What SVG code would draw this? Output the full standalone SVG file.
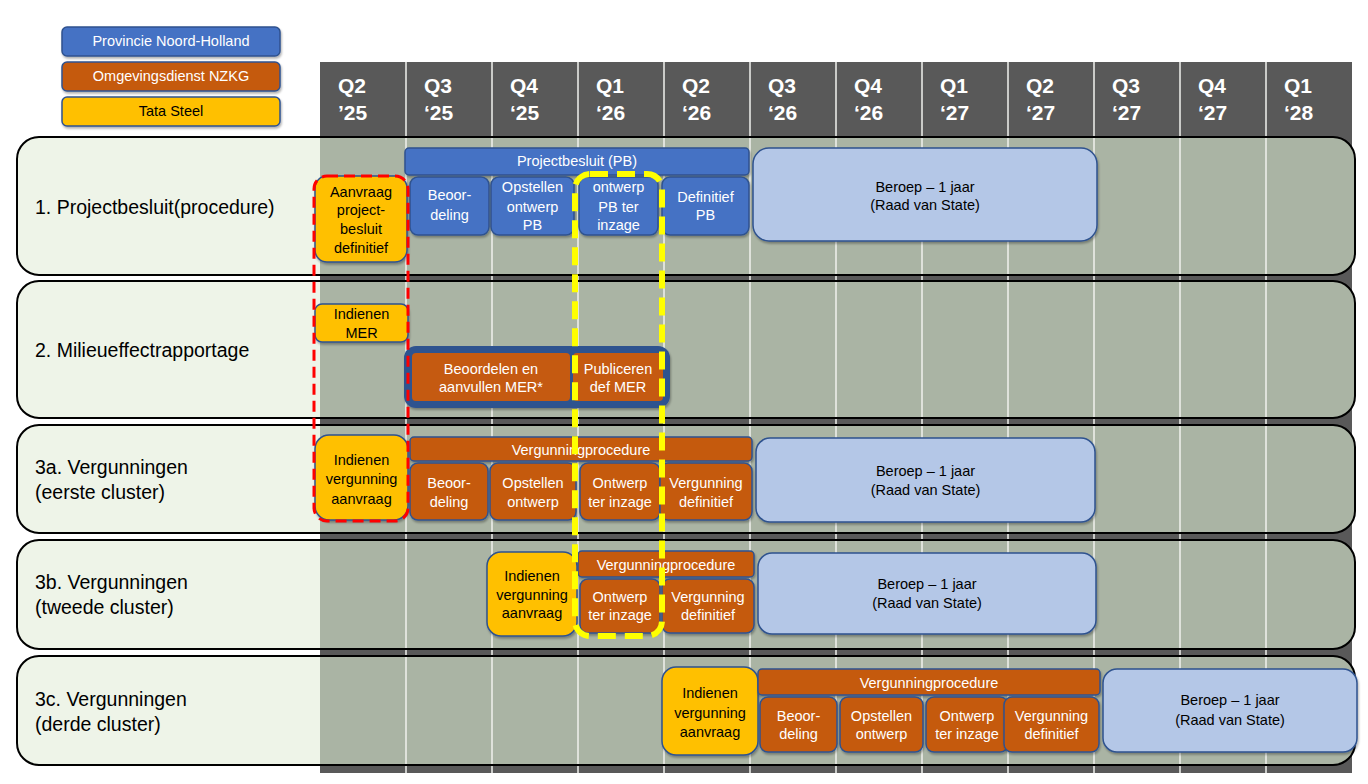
<svg xmlns="http://www.w3.org/2000/svg" width="1368" height="784" viewBox="0 0 1368 784">
<defs>
<filter id="sh" x="-10%" y="-10%" width="120%" height="130%">
<feDropShadow dx="1" dy="2" stdDeviation="1.2" flood-color="#000" flood-opacity="0.3"/>
</filter>
</defs>
<style>
text{font-family:"Liberation Sans",Arial,sans-serif}
.box{stroke:#2F528F;stroke-width:1.5;filter:url(#sh)}
.blue{fill:#4472C4}
.orange{fill:#C55A11}
.yellow{fill:#FFC000}
.lblue{fill:#B4C7E7}
.tw{fill:#fff;font-size:14.5px;text-anchor:middle}
.tk{fill:#000;font-size:14.5px;text-anchor:middle}
.hdr{fill:#fff;font-size:21px;font-weight:bold}
.lbl{fill:#000;font-size:19.5px}
.rowbg{fill:#EEF4E8}
.rowgrey{fill:#AAB4A4}
.frame{fill:none;stroke:#000;stroke-width:2}
.div{stroke:#F0F2EE;stroke-width:1.5}
</style>
<rect width="1368" height="784" fill="#fff"/>

<g id="legend">
<g id="legend-pnh"><rect class="box blue" x="62" y="27" width="218" height="29" rx="5"/><text class="tw" x="171" y="46">Provincie Noord-Holland</text></g>
<g id="legend-od"><rect class="box orange" x="62" y="62" width="218" height="29" rx="5"/><text class="tw" x="171" y="81">Omgevingsdienst NZKG</text></g>
<g id="legend-tata"><rect class="box yellow" x="62" y="97" width="218" height="29" rx="5"/><text class="tk" x="171" y="116">Tata Steel</text></g>
</g>

<g id="timeline-bg">
<rect x="320" y="62" width="1032" height="711" fill="#595959"/>
</g>

<g id="rows-bg">
<rect class="rowbg" x="17" y="137" width="1338" height="138" rx="22"/>
<path class="rowgrey" d="M320,137H1333A22,22 0 0 1 1355,159V253A22,22 0 0 1 1333,275H320Z"/>
<rect class="rowbg" x="17" y="281" width="1338" height="137" rx="22"/>
<path class="rowgrey" d="M320,281H1333A22,22 0 0 1 1355,303V396A22,22 0 0 1 1333,418H320Z"/>
<rect class="rowbg" x="17" y="425" width="1338" height="108" rx="22"/>
<path class="rowgrey" d="M320,425H1333A22,22 0 0 1 1355,447V511A22,22 0 0 1 1333,533H320Z"/>
<rect class="rowbg" x="17" y="540" width="1338" height="109" rx="22"/>
<path class="rowgrey" d="M320,540H1333A22,22 0 0 1 1355,562V627A22,22 0 0 1 1333,649H320Z"/>
<rect class="rowbg" x="17" y="656" width="1338" height="109" rx="22"/>
<path class="rowgrey" d="M320,656H1333A22,22 0 0 1 1355,678V743A22,22 0 0 1 1333,765H320Z"/>
</g>

<g id="dividers">
<line class="div" x1="406" y1="62" x2="406" y2="773"/>
<line class="div" x1="492" y1="62" x2="492" y2="773"/>
<line class="div" x1="578" y1="62" x2="578" y2="773"/>
<line class="div" x1="664" y1="62" x2="664" y2="773"/>
<line class="div" x1="750" y1="62" x2="750" y2="773"/>
<line class="div" x1="836" y1="62" x2="836" y2="773"/>
<line class="div" x1="922" y1="62" x2="922" y2="773"/>
<line class="div" x1="1008" y1="62" x2="1008" y2="773"/>
<line class="div" x1="1094" y1="62" x2="1094" y2="773"/>
<line class="div" x1="1180" y1="62" x2="1180" y2="773"/>
<line class="div" x1="1266" y1="62" x2="1266" y2="773"/>
</g>

<g id="header">
<text class="hdr" x="338" y="93">Q2</text><text class="hdr" x="338" y="120">’25</text>
<text class="hdr" x="424" y="93">Q3</text><text class="hdr" x="424" y="120">‘25</text>
<text class="hdr" x="510" y="93">Q4</text><text class="hdr" x="510" y="120">‘25</text>
<text class="hdr" x="596" y="93">Q1</text><text class="hdr" x="596" y="120">‘26</text>
<text class="hdr" x="682" y="93">Q2</text><text class="hdr" x="682" y="120">‘26</text>
<text class="hdr" x="768" y="93">Q3</text><text class="hdr" x="768" y="120">‘26</text>
<text class="hdr" x="854" y="93">Q4</text><text class="hdr" x="854" y="120">‘26</text>
<text class="hdr" x="940" y="93">Q1</text><text class="hdr" x="940" y="120">‘27</text>
<text class="hdr" x="1026" y="93">Q2</text><text class="hdr" x="1026" y="120">‘27</text>
<text class="hdr" x="1112" y="93">Q3</text><text class="hdr" x="1112" y="120">‘27</text>
<text class="hdr" x="1198" y="93">Q4</text><text class="hdr" x="1198" y="120">‘27</text>
<text class="hdr" x="1284" y="93">Q1</text><text class="hdr" x="1284" y="120">‘28</text>
</g>

<g id="row-frames">
<rect class="frame" x="17" y="137" width="1338" height="138" rx="22"/>
<rect class="frame" x="17" y="281" width="1338" height="137" rx="22"/>
<rect class="frame" x="17" y="425" width="1338" height="108" rx="22"/>
<rect class="frame" x="17" y="540" width="1338" height="109" rx="22"/>
<rect class="frame" x="17" y="656" width="1338" height="109" rx="22"/>
<text class="lbl" x="35" y="214">1. Projectbesluit(procedure)</text>
<text class="lbl" x="35" y="357">2. Milieueffectrapportage</text>
<text class="lbl" x="35" y="474">3a. Vergunningen</text><text class="lbl" x="35" y="499">(eerste cluster)</text>
<text class="lbl" x="35" y="589">3b. Vergunningen</text><text class="lbl" x="35" y="614">(tweede cluster)</text>
<text class="lbl" x="35" y="706">3c. Vergunningen</text><text class="lbl" x="35" y="731">(derde cluster)</text>
</g>

<!-- Row 1 -->
<g id="r1-pb-bar"><rect class="box blue" x="405" y="148" width="344" height="27" rx="4"/><text class="tw" x="577" y="166">Projectbesluit (PB)</text></g>
<g id="r1-aanvraag"><rect class="box yellow" x="315" y="176" width="92" height="86" rx="12"/><text class="tk" x="361" y="197">Aanvraag</text><text class="tk" x="361" y="215">project-</text><text class="tk" x="361" y="234">besluit</text><text class="tk" x="361" y="253">definitief</text></g>
<g id="r1-beoordeling"><rect class="box blue" x="410" y="177" width="79" height="58" rx="8"/><text class="tw" x="449.5" y="200">Beoor-</text><text class="tw" x="449.5" y="220">deling</text></g>
<g id="r1-opstellen"><rect class="box blue" x="491" y="177" width="83" height="58" rx="8"/><text class="tw" x="532.5" y="192">Opstellen</text><text class="tw" x="532.5" y="212">ontwerp</text><text class="tw" x="532.5" y="230">PB</text></g>
<g id="r1-inzage"><rect class="box blue" x="579" y="177" width="79" height="58" rx="8"/><text class="tw" x="618.5" y="192">ontwerp</text><text class="tw" x="618.5" y="212">PB ter</text><text class="tw" x="618.5" y="230">inzage</text></g>
<g id="r1-definitief"><rect class="box blue" x="662" y="177" width="87" height="58" rx="8"/><text class="tw" x="705.5" y="202">Definitief</text><text class="tw" x="705.5" y="220">PB</text></g>
<g id="r1-beroep"><rect class="box lblue" x="753" y="148" width="344" height="93" rx="16"/><text class="tk" x="925" y="192">Beroep – 1 jaar</text><text class="tk" x="925" y="210">(Raad van State)</text></g>

<!-- Row 2 -->
<g id="r2-indienen"><rect class="box yellow" x="315" y="304" width="93" height="38" rx="7"/><text class="tk" x="361.5" y="319">Indienen</text><text class="tk" x="361.5" y="338">MER</text></g>
<g id="r2-group">
<rect x="404" y="346" width="266" height="62" rx="12" fill="#2F528F" filter="url(#sh)"/>
<rect class="orange" x="412" y="353" width="158" height="48" rx="4"/><text class="tw" x="491" y="374">Beoordelen en</text><text class="tw" x="491" y="392">aanvullen MER*</text>
<rect class="orange" x="573" y="353" width="90" height="48" rx="4"/><text class="tw" x="618" y="374">Publiceren</text><text class="tw" x="618" y="392">def MER</text>
</g>

<!-- Row 3a -->
<g id="r3a-indienen"><rect class="box yellow" x="315" y="435" width="93" height="85" rx="14"/><text class="tk" x="361.5" y="465">Indienen</text><text class="tk" x="361.5" y="484">vergunning</text><text class="tk" x="361.5" y="504">aanvraag</text></g>
<g id="r3a-bar"><rect class="box orange" x="410" y="437" width="342" height="24" rx="4"/><text class="tw" x="581" y="455">Vergunningprocedure</text></g>
<g id="r3a-beoordeling"><rect class="box orange" x="410" y="463" width="78" height="57" rx="8"/><text class="tw" x="449" y="488">Beoor-</text><text class="tw" x="449" y="507">deling</text></g>
<g id="r3a-opstellen"><rect class="box orange" x="490" y="463" width="86" height="57" rx="8"/><text class="tw" x="533" y="488">Opstellen</text><text class="tw" x="533" y="507">ontwerp</text></g>
<g id="r3a-inzage"><rect class="box orange" x="580" y="463" width="80" height="57" rx="8"/><text class="tw" x="620" y="488">Ontwerp</text><text class="tw" x="620" y="507">ter inzage</text></g>
<g id="r3a-definitief"><rect class="box orange" x="660" y="463" width="92" height="57" rx="8"/><text class="tw" x="706" y="488">Vergunning</text><text class="tw" x="706" y="507">definitief</text></g>
<g id="r3a-beroep"><rect class="box lblue" x="756" y="438" width="339" height="84" rx="14"/><text class="tk" x="925.5" y="476">Beroep – 1 jaar</text><text class="tk" x="925.5" y="495">(Raad van State)</text></g>

<!-- Row 3b -->
<g id="r3b-indienen"><rect class="box yellow" x="487" y="552" width="90" height="84" rx="14"/><text class="tk" x="532" y="581">Indienen</text><text class="tk" x="532" y="600">vergunning</text><text class="tk" x="532" y="618">aanvraag</text></g>
<g id="r3b-bar"><rect class="box orange" x="578" y="551" width="176" height="26" rx="4"/><text class="tw" x="666" y="570">Vergunningprocedure</text></g>
<g id="r3b-inzage"><rect class="box orange" x="580" y="579" width="80" height="54" rx="8"/><text class="tw" x="620" y="602">Ontwerp</text><text class="tw" x="620" y="620">ter inzage</text></g>
<g id="r3b-definitief"><rect class="box orange" x="662" y="579" width="92" height="54" rx="8"/><text class="tw" x="708" y="602">Vergunning</text><text class="tw" x="708" y="620">definitief</text></g>
<g id="r3b-beroep"><rect class="box lblue" x="758" y="553" width="338" height="81" rx="14"/><text class="tk" x="927" y="589">Beroep – 1 jaar</text><text class="tk" x="927" y="608">(Raad van State)</text></g>

<!-- Row 3c -->
<g id="r3c-indienen"><rect class="box yellow" x="662" y="667" width="96" height="88" rx="14"/><text class="tk" x="710" y="698">Indienen</text><text class="tk" x="710" y="718">vergunning</text><text class="tk" x="710" y="737">aanvraag</text></g>
<g id="r3c-bar"><rect class="box orange" x="758" y="669" width="342" height="26" rx="4"/><text class="tw" x="929" y="688">Vergunningprocedure</text></g>
<g id="r3c-beoordeling"><rect class="box orange" x="760" y="697" width="77" height="55" rx="8"/><text class="tw" x="798.5" y="721">Beoor-</text><text class="tw" x="798.5" y="739">deling</text></g>
<g id="r3c-opstellen"><rect class="box orange" x="840" y="697" width="83" height="55" rx="8"/><text class="tw" x="881.5" y="721">Opstellen</text><text class="tw" x="881.5" y="739">ontwerp</text></g>
<g id="r3c-inzage"><rect class="box orange" x="926" y="697" width="82" height="55" rx="8"/><text class="tw" x="967" y="721">Ontwerp</text><text class="tw" x="967" y="739">ter inzage</text></g>
<g id="r3c-definitief"><rect class="box orange" x="1004" y="697" width="95" height="55" rx="8"/><text class="tw" x="1051.5" y="721">Vergunning</text><text class="tw" x="1051.5" y="739">definitief</text></g>
<g id="r3c-beroep"><rect class="box lblue" x="1103" y="669" width="254" height="83" rx="14"/><text class="tk" x="1230" y="705">Beroep – 1 jaar</text><text class="tk" x="1230" y="725">(Raad van State)</text></g>

<g id="highlights">
<rect x="314" y="176" width="94" height="345" rx="13" fill="none" stroke="#FF0000" stroke-width="3" stroke-dasharray="11 6"/>
<rect x="575" y="174" width="87" height="462" rx="15" fill="none" stroke="#FFFF00" stroke-width="6" stroke-dasharray="18 9"/>
</g>
</svg>
